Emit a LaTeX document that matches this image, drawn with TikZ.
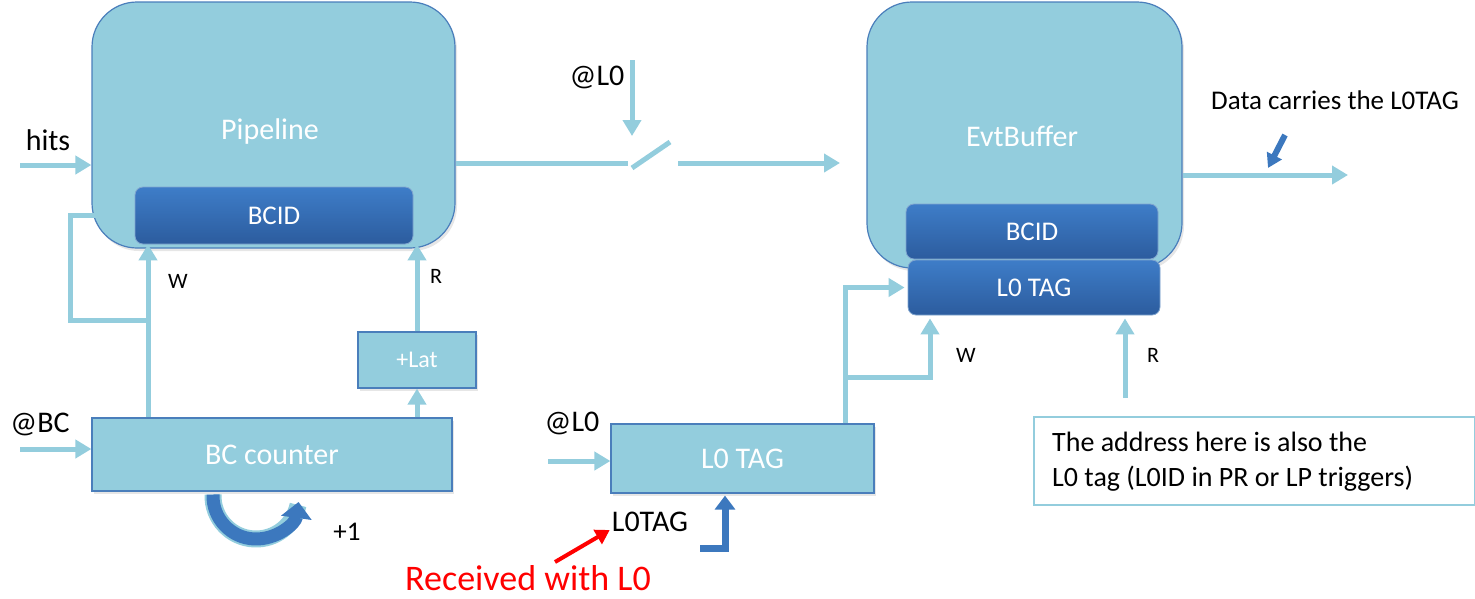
\documentclass[tikz,border=0pt]{standalone}
\usepackage{fontspec}
\setmainfont{Carlito}
\usetikzlibrary{arrows.meta,calc,shadows}
\definecolor{lightfill}{RGB}{147,205,221}
\definecolor{edgeblue}{RGB}{74,126,187}
\definecolor{bartop}{RGB}{62,125,200}
\definecolor{barbot}{RGB}{44,92,158}
\definecolor{tipblue}{RGB}{60,120,190}
\newcommand\txtL{\fontsize{30}{36}\selectfont}
\newcommand\txtM{\fontsize{27}{32}\selectfont}
\newcommand\txtS{\fontsize{22}{26}\selectfont}

\begin{document}
\begin{tikzpicture}[x=1pt,y=-1pt,
  block/.style={draw=edgeblue, line width=1.2pt, fill=lightfill, text=white, font=\txtL,
    drop shadow={opacity=0.2, shadow xshift=2pt, shadow yshift=-3pt}},
  bar/.style={draw=edgeblue!70, line width=0.8pt, rounded corners=8pt, top color=bartop, bottom color=barbot, text=white, font=\txtM},
  flow/.style={draw=lightfill, line width=5pt, -{Triangle[length=16pt,width=18pt]}},
  wire/.style={draw=lightfill, line width=5pt},
  darkflow/.style={draw=tipblue, line width=7pt, -{Triangle[length=14pt,width=20pt]}},
  lbl/.style={font=\txtL, text=black, inner sep=0pt}]
\useasboundingbox (0,0) rectangle (1475,598);

% pipeline side
\node[block, rounded corners=45pt, minimum width=363pt, minimum height=246pt] (pipeline) at (273.5,125) {};
\node[font=\txtL, text=white] (pipetxt) at (270,131) {Pipeline};
\node[bar, minimum width=278pt, minimum height=57pt] (bcidA) at (274,215.5) {BCID};
\node[block, minimum width=360pt, minimum height=73pt] (bccount) at (272,454.5) {BC counter};
\node[block, font=\fontsize{24}{28}\selectfont, minimum width=118pt, minimum height=56pt] (lat) at (417,360) {+Lat};

\node[lbl] (hits) at (48,140) {hits};
\node[lbl] (atbc) at (40,424) {@BC};
\node[lbl, font=\txtS] (wA) at (178,281) {W};
\node[lbl, font=\txtS] (rA) at (436,276) {R};
\node[lbl, font=\fontsize{27}{32}\selectfont] (plusone) at (347,532) {+1};

\coordinate (hitsin) at (20,165);
\coordinate (bcin) at (20,449);
\coordinate (wfork) at (148,320);
\coordinate (wloop) at (70,320);
\draw[flow] (hitsin) -- (hitsin -| pipeline.west);
\draw[flow] (bcin) -- (bcin -| bccount.west);
\draw[flow] (bccount.north -| wfork) -- (bcidA.south -| wfork);
\draw[flow] (wfork) -- (wloop) |- ($(bcidA.west)+(-4,0)$);
\draw[flow] (bccount.north -| lat.north) -- (lat.south);
\draw[flow] (lat.north) -- (lat.north |- bcidA.south);

% +1 loop
\coordinate (loopc) at (256,496);
\draw[lightfill, line width=17pt] ($(loopc)+(182:43)$) arc[start angle=182, end angle=12, radius=43];
\draw[tipblue, line width=13pt, -{Triangle[length=16pt,width=30pt]}] ($(loopc)+(182:43)$) arc[start angle=182, end angle=8, radius=43];

% switch
\coordinate (swa) at (628,163);
\coordinate (swb) at (632,168);
\coordinate (swc) at (670,142);
\coordinate (swd) at (678,163);
\coordinate (swe) at (840,163);
\coordinate (trigtop) at (632,60);
\coordinate (trigbot) at (632,136);
\draw[wire] (pipeline.east |- swa) -- (swa);
\draw[wire] (swb) -- (swc);
\draw[flow] (swd) -- (swe);
\draw[flow] (trigtop) -- (trigbot);
\node[lbl] (atlA) at (597,77) {@L0};

% event buffer side
\node[block, rounded corners=45pt, minimum width=315pt, minimum height=266pt] (evtbuf) at (1024.5,135) {};
\node[font=\txtL, text=white] (evttxt) at (1022,136) {EvtBuffer};
\node[bar, minimum width=252pt, minimum height=55pt] (bcidB) at (1032,231.5) {BCID};
\node[bar, minimum width=252pt, minimum height=55pt] (tagB) at (1034,287.5) {L0 TAG};
\node[block, minimum width=263pt, minimum height=69pt] (tagbox) at (742.5,458.5) {L0 TAG};

\coordinate (dataout) at (1348,175);
\coordinate (notefrom) at (1285,135);
\coordinate (noteto) at (1268,168);
\draw[flow] (evtbuf.east |- dataout) -- (dataout);
\draw[tipblue, line width=6pt, -{Triangle[length=14pt,width=16pt]}] (notefrom) -- (noteto);
\node[lbl, font=\txtM] (datatxt) at (1335,100) {Data carries the L0TAG};

\coordinate (l0in) at (548,461);
\coordinate (tfork) at (845,377);
\coordinate (wcol) at (930,377);
\coordinate (rin) at (1125,398);
\draw[flow] (l0in) -- (l0in -| tagbox.west);
\draw[flow] (tagbox.north -| tfork) |- ($(tagB.west)+(-3,0)$);
\draw[flow] (tfork) -- (wcol) -- ($(wcol |- tagB.south)+(0,3)$);
\draw[flow] (rin) -- ($(rin |- tagB.south)+(0,3)$);
\node[lbl] (atlB) at (572,423) {@L0};
\node[lbl, font=\txtS] (wB) at (966,355) {W};
\node[lbl, font=\txtS] (rB) at (1153,355) {R};

\coordinate (tagin) at (700,548);
\coordinate (tagcol) at (725,548);
\draw[darkflow] (tagin) -- (tagcol) -- ($(tagcol |- tagbox.south)+(0,2)$);
\node[lbl] (lotag) at (650,522) {L0TAG};
\node[lbl, font=\fontsize{36}{42}\selectfont, text=red] (recv) at (528,578) {Received with L0};
\coordinate (redfrom) at (555,562);
\draw[red, line width=4pt, -{Triangle[length=14pt,width=16pt]}] (redfrom) -- ($(lotag.west)+(-2,8)$);

% note
\node[draw=lightfill, line width=2pt, minimum width=441pt, minimum height=88pt] (note) at (1254,461) {};
\node[anchor=west, align=left, font=\fontsize{28}{35}\selectfont, inner sep=0pt] (notetxt) at (1052,462) {The address here is also the\\L0 tag (L0ID in PR or LP triggers)};
\end{tikzpicture}
\end{document}
